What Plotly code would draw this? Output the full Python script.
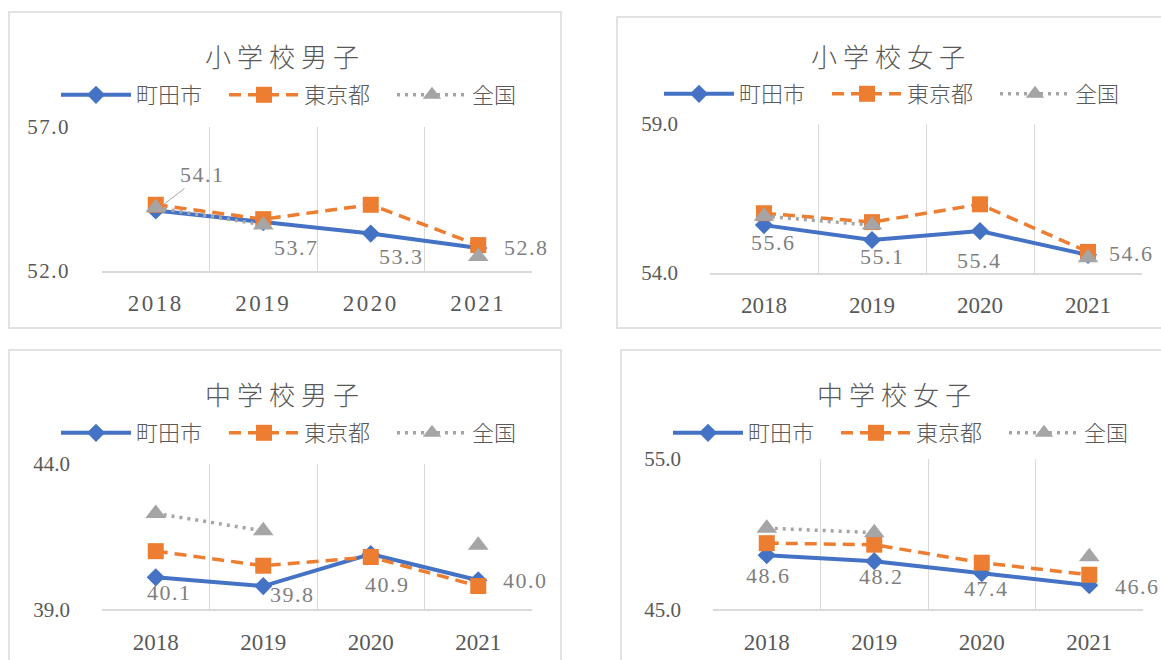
import json
import plotly.graph_objects as go

# ---------------- data ----------------
years = ["2018", "2019", "2020", "2021"]
titles = ["小学校男子", "小学校女子", "中学校男子", "中学校女子"]
series_names = ["町田市", "東京都", "全国"]

machida_es_boys = [54.1, 53.7, 53.3, 52.8]
tokyo_es_boys = [54.3, 53.8, 54.3, 52.9]
national_es_boys = [54.2, 53.6, None, 52.5]

machida_es_girls = [55.6, 55.1, 55.4, 54.6]
tokyo_es_girls = [56.0, 55.7, 56.3, 54.7]
national_es_girls = [55.9, 55.6, None, 54.5]

machida_jh_boys = [40.1, 39.8, 40.9, 40.0]
tokyo_jh_boys = [41.0, 40.5, 40.8, 39.8]
national_jh_boys = [42.3, 41.7, None, 41.2]

machida_jh_girls = [48.6, 48.2, 47.4, 46.6]
tokyo_jh_girls = [49.4, 49.3, 48.1, 47.3]
national_jh_girls = [50.4, 50.1, None, 48.5]

y_ranges = [(52.0, 57.0), (54.0, 59.0), (39.0, 44.0), (45.0, 55.0)]

panels_data = [
    (machida_es_boys, tokyo_es_boys, national_es_boys),
    (machida_es_girls, tokyo_es_girls, national_es_girls),
    (machida_jh_boys, tokyo_jh_boys, national_jh_boys),
    (machida_jh_girls, tokyo_jh_girls, national_jh_girls),
]

# ---------------- layout / style ----------------
W, H = 1161, 660
# plot areas in pixels: (left, right, top, bottom)
plot_boxes = [(102, 532, 127, 271), (710, 1142, 124, 272.7),
              (102, 532, 464, 609.3), (713, 1143, 459, 609.3)]
# chart borders in pixels
border_boxes = [(9, 561, 12, 328), (617, 1180, 17, 328),
                (9, 561, 350, 690), (621, 1180, 350, 690)]
title_pos = [(285, 55), (891, 55), (285, 393), (897, 393)]
legend_start = [(61, 95), (664, 94), (61, 433), (673, 433)]
# data label offsets (dx, dy) in px, dy positive = downward
label_offsets = [
    [(47, -36), (33, 25), (31, 23), (48, 0)],
    [(9, 17), (10, 17), (-1, 29), (43, -1)],
    [(14, 15), (29, 8), (17, 30), (47, 0)],
    [(2, 20), (7, 15), (5, 15), (48, 1)],
]
leader_label = (0, 0)  # panel 0, point 0 has a leader line

colors = ["#4472C4", "#ED7D31", "#A5A5A5"]
dashes = ["solid", "12px,7px", "3px,5px"]
widths = [4, 3.5, 3.5]
symbols = ["diamond", "square", "triangle-up"]
msizes = [14, 16, 18]

NUM_FONT = "Liberation Serif, Noto Sans CJK JP, serif"
JP_FONT = "Noto Sans CJK JP, sans-serif"
TXT = "#595959"
LBL = "#7f7f7f"
GRID = "#d9d9d9"

xs = [int(y) for y in years]
x_bounds = [xs[0] - 0.5] + [x + 0.5 for x in xs]

def px_x(x):
    return x / W

def px_y(y):
    return 1 - y / H

fig = go.Figure()
layout = dict(
    width=W, height=H,
    margin=dict(l=0, r=0, t=0, b=0, autoexpand=False),
    paper_bgcolor="white", plot_bgcolor="white",
    hovermode=False,
    shapes=[], annotations=[],
)

for i, (data, yr) in enumerate(zip(panels_data, y_ranges)):
    sfx = "" if i == 0 else str(i + 1)
    xa, ya = "x" + sfx, "y" + sfx
    leg = "legend" + sfx
    l, r, t, b = plot_boxes[i]
    for j, vals in enumerate(data):
        fig.add_trace(go.Scatter(
            x=xs, y=vals, name=series_names[j], mode="lines+markers",
            xaxis=xa, yaxis=ya, legend=leg,
            line=dict(color=colors[j], width=widths[j], dash=dashes[j]),
            marker=dict(symbol=symbols[j], size=msizes[j], color=colors[j]),
            connectgaps=False, cliponaxis=False,
        ))
    layout["xaxis" + sfx] = dict(
        domain=[px_x(l), px_x(r)], anchor=ya, type="linear",
        range=[x_bounds[0], x_bounds[-1]], automargin=False,
        tickvals=xs, ticktext=years, showgrid=False,
        minor=dict(tickvals=x_bounds, showgrid=True, gridcolor=GRID,
                   gridwidth=1.3, ticks=""),
        showline=True, linecolor=GRID, linewidth=1.5, ticks="", zeroline=False,
        tickfont=dict(family=NUM_FONT, size=23, color=TXT),
        ticklabelstandoff=11, fixedrange=True,
    )
    layout["yaxis" + sfx] = dict(
        domain=[px_y(b), px_y(t)], anchor=xa, range=list(yr), automargin=False,
        tickvals=list(yr), tickformat=".1f", showgrid=False, zeroline=False,
        showline=False, ticks="",
        tickfont=dict(family=NUM_FONT, size=21, color=TXT),
        ticklabelstandoff=31, fixedrange=True,
    )
    layout[leg] = dict(
        orientation="h", x=px_x(legend_start[i][0] - 5), y=px_y(legend_start[i][1]),
        xanchor="left", yanchor="middle", bgcolor="rgba(0,0,0,0)",
        font=dict(family=JP_FONT, size=22, color=TXT, weight=300),
        itemwidth=70, entrywidth=83, entrywidthmode="pixels", tracegroupgap=0,
    )
    bl, br, bt, bb = border_boxes[i]
    layout["shapes"].append(dict(
        type="rect", xref="paper", yref="paper",
        x0=px_x(bl), x1=px_x(br), y0=px_y(bb), y1=px_y(bt),
        line=dict(color=GRID, width=1.5), fillcolor="rgba(0,0,0,0)", layer="below",
    ))
    layout["annotations"].append(dict(
        text=titles[i], xref="paper", yref="paper",
        x=px_x(title_pos[i][0]), y=px_y(title_pos[i][1]),
        xanchor="center", yanchor="middle", showarrow=False,
        font=dict(family=JP_FONT, size=26, color=TXT, weight=300),
    ))
    # data labels for 町田市
    for k, v in enumerate(data[0]):
        dx, dy = label_offsets[i][k]
        ann = dict(
            text=f"{v:.1f}", xref=xa, yref=ya, x=xs[k], y=v,
            font=dict(family=NUM_FONT, size=22, color=LBL),
            xanchor="center", yanchor="middle",
        )
        if (i, k) == leader_label:
            ann.update(showarrow=True, ax=dx, ay=dy, arrowhead=0,
                       arrowwidth=1, arrowcolor="#a6a6a6", standoff=9)
        else:
            ann.update(showarrow=False, xshift=dx, yshift=-dy)
        layout["annotations"].append(ann)

fig.update_layout(**layout)

post_js = """
var gd = document.getElementById('{plot_id}');
document.body.style.margin = '0';
document.documentElement.style.overflow = 'hidden';
document.body.style.overflow = 'hidden';
gd.style.position = 'absolute';
gd.style.left = '0px';
gd.style.top = '0px';
var TITLES = %s;
gd.querySelectorAll('.xtick text').forEach(function(t){ t.style.letterSpacing = '2.5px'; });
gd.querySelectorAll('.ytick text').forEach(function(t){ t.style.letterSpacing = '1.5px'; });
gd.querySelectorAll('.annotation-text').forEach(function(t){
  if (TITLES.indexOf(t.textContent) >= 0) { t.style.letterSpacing = '6px'; }
  else { t.style.letterSpacing = '1.5px'; }
});
""" % json.dumps(titles, ensure_ascii=False)

fig.write_html("out.html", config={"displayModeBar": False}, post_script=post_js)
